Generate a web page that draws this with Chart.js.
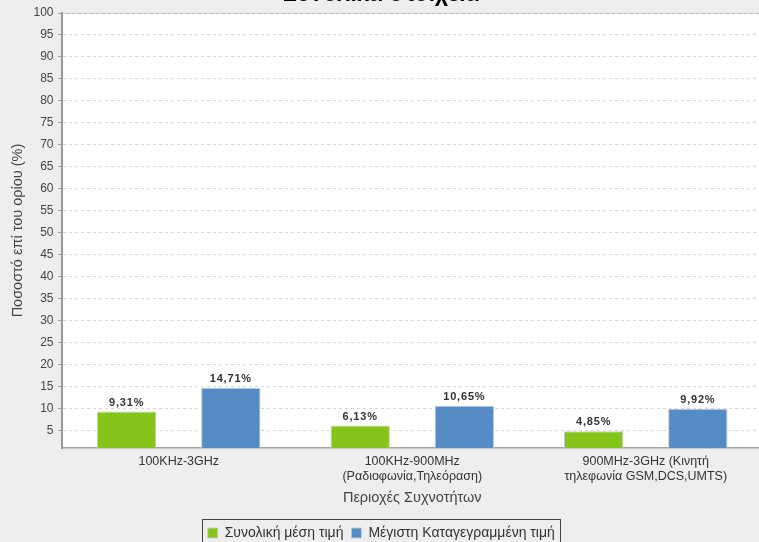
<!DOCTYPE html>
<html>
<head>
<meta charset="utf-8">
<script src="https://cdn.jsdelivr.net/npm/chart.js@4.4.1/dist/chart.umd.min.js"></script>
<style>
  html, body { margin: 0; padding: 0; background: #eeeeee; overflow: hidden; }
  #wrap { position: absolute; left: 0; top: -22px; width: 766px; height: 572px; }
</style>
</head>
<body>
<div id="wrap"><canvas id="chart"></canvas></div>
<script>
// data
const categories = [
  ["100KHz-3GHz"],
  ["100KHz-900MHz", "(Ραδιοφωνία,Τηλεόραση)"],
  ["900MHz-3GHz (Κινητή", "τηλεφωνία GSM,DCS,UMTS)"]
];
const avgValues = [9.31, 6.13, 4.85];
const maxValues = [14.71, 10.65, 9.92];
const yTicks = [5, 10, 15, 20, 25, 30, 35, 40, 45, 50, 55, 60, 65, 70, 75, 80, 85, 90, 95, 100];

Chart.defaults.font.family = "'Liberation Sans', Arial, sans-serif";

const plotBackground = {
  id: "plotBackground",
  beforeDraw(chart) {
    const { ctx, chartArea: a } = chart;
    ctx.save();
    ctx.fillStyle = "#eeeeee";
    ctx.fillRect(0, 0, chart.width, chart.height);
    ctx.fillStyle = "#ffffff";
    ctx.fillRect(a.left, a.top, a.right - a.left, a.bottom - a.top);
    ctx.strokeStyle = "#b8b8b8";
    ctx.lineWidth = 1;
    ctx.beginPath();
    ctx.moveTo(a.left, a.top + 0.5);
    ctx.lineTo(a.right, a.top + 0.5);
    ctx.stroke();
    ctx.restore();
  }
};

const barLabels = {
  id: "barLabels",
  afterDatasetsDraw(chart) {
    const { ctx } = chart;
    ctx.save();
    ctx.font = "bold 11px 'Liberation Sans', Arial, sans-serif";
    ctx.letterSpacing = "0.8px";
    ctx.fillStyle = "#333333";
    ctx.textAlign = "center";
    ctx.textBaseline = "middle";
    chart.data.datasets.forEach((ds, i) => {
      chart.getDatasetMeta(i).data.forEach((bar, j) => {
        const txt = ds.data[j].toFixed(2).replace(".", ",") + "%";
        ctx.fillText(txt, bar.x, bar.y - 9);
      });
    });
    ctx.restore();
  }
};

const legendBox = {
  id: "legendBox",
  afterDraw(chart) {
    const boxes = chart.legend.legendHitBoxes;
    if (!boxes || !boxes.length) return;
    const first = boxes[0], last = boxes[boxes.length - 1];
    const cy = first.top + first.height / 2;
    const { ctx } = chart;
    ctx.save();
    ctx.strokeStyle = "#444444";
    ctx.lineWidth = 1;
    ctx.strokeRect(Math.round(first.left - 6) + 0.5, Math.round(cy - 14) + 0.5,
      Math.round(last.left + last.width - first.left + 11), 28);
    ctx.restore();
  }
};

new Chart(document.getElementById("chart"), {
  type: "bar",
  data: {
    labels: categories,
    datasets: [
      {
        label: "Συνολική μέση τιμή",
        data: avgValues,
        backgroundColor: "#85c51a",
        borderColor: "#c8c8c8",
        borderWidth: 1,
        categoryPercentage: 0.892,
        barPercentage: 0.57
      },
      {
        label: "Μέγιστη Καταγεγραμμένη τιμή",
        data: maxValues,
        backgroundColor: "#568cc6",
        borderColor: "#c8c8c8",
        borderWidth: 1,
        categoryPercentage: 0.892,
        barPercentage: 0.57
      }
    ]
  },
  options: {
    responsive: true,
    maintainAspectRatio: false,
    animation: false,
    layout: { padding: { left: 0, right: 3.5, top: 0, bottom: 0 } },
    plugins: {
      title: {
        display: true,
        text: "Συνολικά στοιχεία",
        color: "#000000",
        font: { size: 23, weight: "bold" },
        padding: { top: 2.7, bottom: 4.7 }
      },
      legend: {
        position: "bottom",
        labels: {
          boxWidth: 10,
          boxHeight: 10,
          padding: 8,
          color: "#333333",
          font: { size: 14 }
        }
      },
      tooltip: { enabled: false }
    },
    scales: {
      x: {
        grid: { display: false, drawTicks: false, tickLength: 0 },
        border: { display: true, color: "#a0a0a0", width: 1.5 },
        ticks: {
          color: "#333333",
          padding: 6.8,
          maxRotation: 0,
          autoSkip: false,
          font: { size: 12.5, lineHeight: 1.15 }
        },
        title: {
          display: true,
          text: "Περιοχές Συχνοτήτων",
          color: "#444444",
          font: { size: 14.5, lineHeight: 1 },
          padding: { top: 0, bottom: 13.1 }
        }
      },
      y: {
        min: 1,
        max: 100,
        afterBuildTicks(axis) {
          axis.ticks = yTicks.map(v => ({ value: v }));
        },
        afterFit(axis) {
          axis.width = 62;
        },
        grid: {
          color: "#d6d6d6",
          tickColor: "#a0a0a0",
          tickLength: 4,
          tickBorderDash: []
        },
        border: { display: true, color: "#999999", width: 2, dash: [3, 3] },
        ticks: {
          color: "#444444",
          padding: 4.5,
          font: { size: 12 }
        },
        title: {
          display: true,
          text: "Ποσοστό επί του ορίου (%)",
          color: "#444444",
          font: { size: 14.5 },
          padding: { top: 8.8, bottom: 0 }
        }
      }
    }
  },
  plugins: [plotBackground, barLabels, legendBox]
});
</script>
</body>
</html>
